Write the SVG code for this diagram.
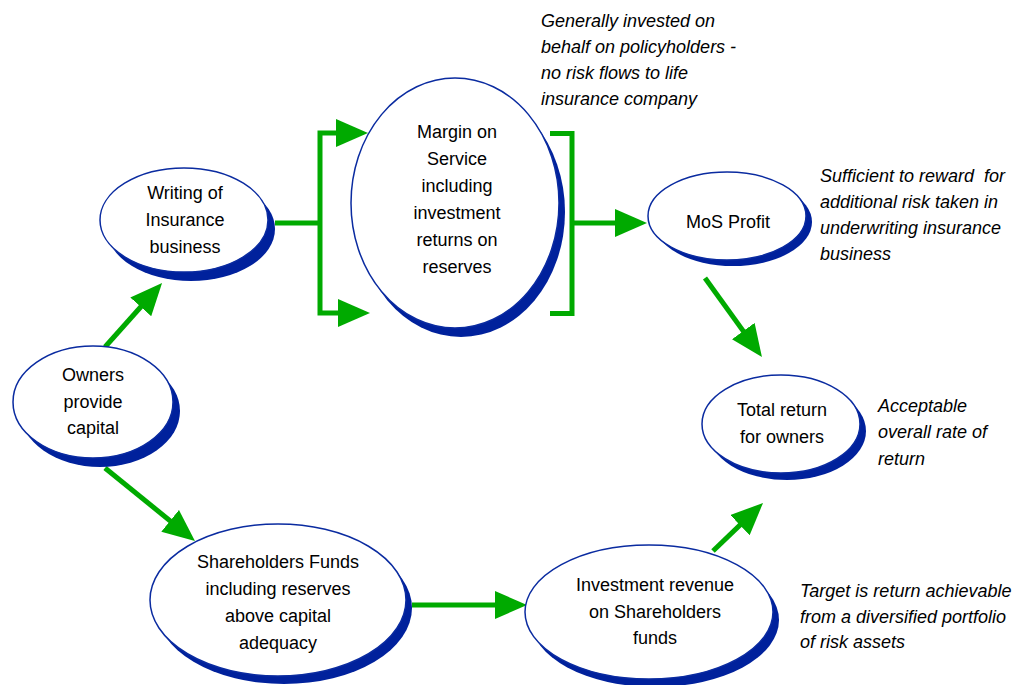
<svg xmlns="http://www.w3.org/2000/svg" width="1014" height="685" viewBox="0 0 1014 685">
<defs>
<style>
.sh{fill:#00219C;}
.el{fill:#fff;stroke:#0A2BA0;stroke-width:1.5;}
.t{font-family:"Liberation Sans",Arial,sans-serif;font-size:18px;fill:#000;text-anchor:middle;}
.n{font-family:"Liberation Sans",Arial,sans-serif;font-size:18px;font-style:italic;fill:#000;white-space:pre;}
.c{fill:none;stroke:#00AA00;stroke-width:5;}
</style>
<marker id="ah" markerUnits="userSpaceOnUse" markerWidth="34" markerHeight="28" refX="22" refY="14" orient="auto-start-reverse" viewBox="0 0 34 28">
<path d="M0,0 L32,14 L0,28 z" fill="#00AA00"/>
</marker>
</defs>
<rect width="1014" height="685" fill="#fff"/>
<g id="connectors">
<path class="c" d="M105,347 L155.4,290.5" marker-end="url(#ah)"/>
<path class="c" d="M105,468 L187.2,534.7" marker-end="url(#ah)"/>
<path class="c" d="M275,223 H320"/>
<path class="c" d="M358,133 H320 V313 H360" marker-start="url(#ah)" marker-end="url(#ah)"/>
<path class="c" d="M550,133.5 H572 V313.5 H550"/>
<path class="c" d="M572,223 H637" marker-end="url(#ah)"/>
<path class="c" d="M705,278 L756.1,348.9" marker-end="url(#ah)"/>
<path class="c" d="M412,605 H517" marker-end="url(#ah)"/>
<path class="c" d="M713,551 L755.8,509.9" marker-end="url(#ah)"/>
</g>
<g id="writing">
<ellipse class="sh" cx="191" cy="229" rx="84" ry="52"/>
<ellipse class="el" cx="184" cy="220" rx="84" ry="52"/>
<text class="t" x="185" y="199">Writing of</text>
<text class="t" x="185" y="226">Insurance</text>
<text class="t" x="185" y="253">business</text>
</g>
<g id="margin">
<ellipse class="sh" cx="461" cy="212" rx="104" ry="125"/>
<ellipse class="el" cx="455" cy="203" rx="104" ry="125"/>
<text class="t" x="457" y="138">Margin on</text>
<text class="t" x="457" y="165">Service</text>
<text class="t" x="457" y="192">including</text>
<text class="t" x="457" y="219">investment</text>
<text class="t" x="457" y="246">returns on</text>
<text class="t" x="457" y="273">reserves</text>
</g>
<g id="mos">
<ellipse class="sh" cx="733" cy="222" rx="79" ry="44"/>
<ellipse class="el" cx="727" cy="216" rx="79" ry="44"/>
<text class="t" x="728" y="228">MoS Profit</text>
</g>
<g id="total">
<ellipse class="sh" cx="787" cy="431" rx="79" ry="49"/>
<ellipse class="el" cx="781" cy="424" rx="79" ry="49"/>
<text class="t" x="782" y="416">Total return</text>
<text class="t" x="782" y="443">for owners</text>
</g>
<g id="owners">
<ellipse class="sh" cx="100" cy="411" rx="80" ry="56"/>
<ellipse class="el" cx="93" cy="402" rx="80" ry="56"/>
<text class="t" x="93" y="381">Owners</text>
<text class="t" x="93" y="408">provide</text>
<text class="t" x="93" y="434">capital</text>
</g>
<g id="shareholders">
<ellipse class="sh" cx="284" cy="608" rx="128" ry="76"/>
<ellipse class="el" cx="278" cy="600" rx="128" ry="76"/>
<text class="t" x="278" y="568">Shareholders Funds</text>
<text class="t" x="278" y="595">including reserves</text>
<text class="t" x="278" y="622">above capital</text>
<text class="t" x="278" y="649">adequacy</text>
</g>
<g id="investment">
<ellipse class="sh" cx="655" cy="620" rx="124" ry="67"/>
<ellipse class="el" cx="649" cy="612" rx="124" ry="67"/>
<text class="t" x="655" y="591">Investment revenue</text>
<text class="t" x="655" y="618">on Shareholders</text>
<text class="t" x="655" y="644">funds</text>
</g>
<g id="notes">
<text class="n" x="541" y="27">Generally invested on</text>
<text class="n" x="541" y="53">behalf on policyholders -</text>
<text class="n" x="541" y="79">no risk flows to life</text>
<text class="n" x="541" y="105">insurance company</text>
<text class="n" x="820" y="182" xml:space="preserve">Sufficient to reward  for</text>
<text class="n" x="820" y="208">additional risk taken in</text>
<text class="n" x="820" y="234">underwriting insurance</text>
<text class="n" x="820" y="260">business</text>
<text class="n" x="878" y="412">Acceptable</text>
<text class="n" x="878" y="438">overall rate of</text>
<text class="n" x="878" y="465">return</text>
<text class="n" x="800" y="597">Target is return achievable</text>
<text class="n" x="800" y="623">from a diversified portfolio</text>
<text class="n" x="800" y="648">of risk assets</text>
</g>
</svg>
